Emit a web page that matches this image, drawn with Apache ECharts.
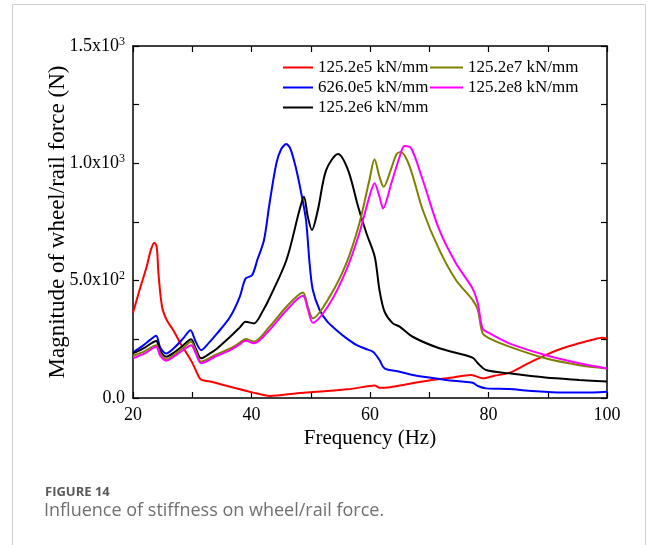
<!DOCTYPE html>
<html>
<head>
<meta charset="utf-8">
<script src="https://cdn.jsdelivr.net/npm/echarts@6/dist/echarts.min.js"></script>
<style>
html,body{margin:0;padding:0;background:#fff;}
#chart{width:654px;height:545px;}
</style>
</head>
<body>
<div id="chart"></div>
<script>
// ---- data ----
const seriesNames = ['125.2e5 kN/mm', '626.0e5 kN/mm', '125.2e6 kN/mm', '125.2e7 kN/mm', '125.2e8 kN/mm'];
const seriesColors = ['#ff0000', '#0000ff', '#000000', '#808000', '#ff00ff'];

const freqRed = [20, 21.1, 22.3, 23, 23.6, 24, 24.3, 24.9, 25.7, 26.8, 28, 29.9, 31.1, 31.6, 33, 36.4, 40.3, 43.1, 47.7, 51, 56.2, 59.9, 60.8, 61.6, 63, 66, 70, 73.5, 77.1, 79, 81, 83.5, 86.5, 89.6, 92.5, 95.3, 97.5, 99.2, 100];
const valRed = [363, 460, 559, 630, 662, 645, 530, 389, 332, 289, 233, 155, 91, 77, 70, 48, 23, 9, 20, 27, 37, 51, 53, 44, 45, 58, 75, 86, 98, 84, 95, 107, 145, 183, 212, 233, 248, 257, 254];

const freqBlue = [20, 21.5, 23, 23.9, 24.6, 25.6, 27, 28.5, 29.7, 30.5, 31.5, 32.8, 34.2, 36.4, 38, 39, 40.1, 41, 42.1, 43.05, 44.2, 45, 45.87, 46.6, 47.5, 48.4, 49.2, 49.8, 50.35, 51.5, 52.8, 54.3, 56, 57.7, 59.2, 60.5, 61.6, 62.45, 65, 67.2, 72.85, 77.3, 78.2, 79.6, 83.5, 86.8, 92.4, 96, 100];
const valBlue = [195, 220, 250, 265, 215, 190, 215, 255, 289, 245, 204, 235, 275, 346, 430, 509, 523, 590, 672, 830, 1000, 1060, 1082, 1060, 980, 872, 758, 575, 460, 375, 325, 290, 255, 226, 210, 197, 162, 126, 112, 98, 77, 65, 51, 41, 38, 31, 23, 23, 27];

const freqBlack = [20, 22, 23.9, 24.6, 25.6, 27, 28.5, 29.8, 30.6, 31.5, 33, 34.2, 36.4, 38, 39, 40.4, 42, 43.05, 45.9, 48.1, 48.85, 49.5, 50.2, 51.2, 52.6, 54.6, 56.3, 58, 59.4, 60.8, 61.6, 62.45, 63.85, 65, 67.2, 71.7, 77.3, 78.2, 79.6, 83.5, 89.6, 95.3, 100];
const valBlack = [190, 215, 243, 200, 176, 195, 225, 250, 210, 169, 190, 211, 261, 300, 325, 318, 375, 426, 588, 801, 858, 773, 716, 801, 971, 1040, 971, 815, 702, 602, 460, 368, 318, 304, 261, 212, 172, 148, 119, 105, 87, 77, 70];

const freqOlive = [20, 22, 23.9, 24.6, 25.6, 27, 28.5, 29.8, 30.6, 31.5, 34, 36.4, 38, 39, 40.4, 43.05, 45.9, 48.67, 49.5, 50.35, 53.2, 56, 58.2, 59.9, 60.76, 61.6, 62.3, 63.6, 64.5, 65.2, 66.7, 68.9, 71.7, 74.5, 77.3, 78.2, 79, 80.15, 83.5, 89.6, 95.3, 100];
const valOlive = [179, 200, 225, 190, 165, 185, 215, 240, 200, 155, 185, 211, 235, 251, 240, 304, 389, 450, 389, 340, 432, 574, 744, 929, 1017, 943, 900, 979, 1040, 1048, 986, 801, 631, 503, 418, 375, 276, 254, 219, 169, 140, 126];

const freqMagenta = [20, 22, 23.9, 24.6, 25.6, 27, 28.5, 29.8, 30.6, 31.5, 34, 36.4, 38, 39, 40.4, 43.05, 45.9, 48.67, 49.5, 50.35, 53.2, 56, 58.2, 59.9, 60.76, 61.6, 62.2, 63.6, 65, 65.8, 66.95, 68.9, 71.7, 74.5, 77.3, 78.2, 79, 80.15, 83.5, 89.6, 95.3, 100];
const valMagenta = [169, 190, 218, 180, 159, 178, 205, 225, 190, 148, 178, 204, 228, 244, 233, 290, 374, 436, 380, 321, 403, 545, 702, 858, 915, 858, 808, 915, 1028, 1074, 1064, 929, 716, 574, 467, 403, 297, 276, 233, 183, 148, 126];

const xTickLabels = [20, 40, 60, 80, 100];
const yTickLabels = {0: ['0.0', ''], 500: ['5.0x10', '2'], 1000: ['1.0x10', '3'], 1500: ['1.5x10', '3']};

const allFreq = [freqRed, freqBlue, freqBlack, freqOlive, freqMagenta];
const allVal = [valRed, valBlue, valBlack, valOlive, valMagenta];

const serif = '"Liberation Serif", "Times New Roman", serif';

function pairs(f, v) { return f.map((x, i) => [x, v[i]]); }

const chart = echarts.init(document.getElementById('chart'), null, {renderer: 'canvas'});

const axisLineStyle = {color: '#000', width: 1.5};
const baseX = {
  type: 'value', min: 20, max: 100, interval: 10,
  axisLine: {show: true, onZero: false, lineStyle: axisLineStyle},
  axisTick: {show: true, inside: true, length: 6, lineStyle: {color: '#000', width: 1.2}},
  splitLine: {show: false}
};
const baseY = {
  type: 'value', min: 0, max: 1500, interval: 250,
  axisLine: {show: true, onZero: false, lineStyle: axisLineStyle},
  axisTick: {show: true, inside: true, length: 6, lineStyle: {color: '#000', width: 1.2}},
  splitLine: {show: false}
};

const option = {
  backgroundColor: '#fff',
  animation: false,
  grid: {left: 133, right: 47, top: 46, bottom: 147, containLabel: false},
  xAxis: [
    Object.assign({}, baseX, {
      position: 'bottom',
      name: 'Frequency (Hz)', nameLocation: 'middle', nameGap: 30,
      nameMoveOverlap: false,
      nameTextStyle: {fontFamily: serif, fontSize: 21, color: '#000'},
      axisLabel: {
        show: true, margin: 8, fontFamily: serif, fontSize: 18, color: '#000',
        formatter: v => xTickLabels.indexOf(v) >= 0 ? String(v) : ''
      }
    }),
    Object.assign({}, baseX, {position: 'top', axisLabel: {show: false}})
  ],
  yAxis: [
    Object.assign({}, baseY, {
      position: 'left',
      name: 'Magnitude of wheel/rail force (N)', nameLocation: 'middle', nameGap: 64,
      nameMoveOverlap: false,
      nameTextStyle: {fontFamily: serif, fontSize: 23, color: '#000'},
      axisLabel: {
        show: true, margin: 8, fontFamily: serif, fontSize: 18, color: '#000',
        formatter: v => {
          const t = yTickLabels[v];
          if (!t) return '';
          return t[1] ? '{m|' + t[0] + '}{s|' + t[1] + '}' : '{m|' + t[0] + '}';
        },
        rich: {
          m: {fontFamily: serif, fontSize: 18, color: '#000'},
          s: {fontFamily: serif, fontSize: 12, color: '#000', verticalAlign: 'top', padding: [0, 0, 9, 0]}
        }
      }
    }),
    Object.assign({}, baseY, {position: 'right', axisLabel: {show: false}})
  ],
  legend: [
    {
      data: [seriesNames[0], seriesNames[1], seriesNames[2]],
      orient: 'vertical', left: 283, top: 59, padding: 0,
      itemWidth: 30, itemHeight: 2, itemGap: 3, icon: 'rect',
      textStyle: {fontFamily: serif, fontSize: 17, color: '#000'}
    },
    {
      data: [seriesNames[3], seriesNames[4]],
      orient: 'vertical', left: 430, top: 59, padding: 0,
      itemWidth: 33, itemHeight: 2, itemGap: 3, icon: 'rect',
      textStyle: {fontFamily: serif, fontSize: 17, color: '#000'}
    }
  ],
  series: seriesNames.map((n, i) => ({
    name: n, type: 'line', xAxisIndex: 0, yAxisIndex: 0,
    data: pairs(allFreq[i], allVal[i]),
    showSymbol: false, symbol: 'none',
    smooth: 0.3,
    lineStyle: {color: seriesColors[i], width: 2},
    itemStyle: {color: seriesColors[i]}
  })),
  graphic: [
    {type: 'rect', shape: {x: 12.5, y: 4.5, width: 633, height: 600},
     style: {fill: 'none', stroke: '#cfcfcf', lineWidth: 1}, silent: true, z: -1},
    {type: 'text', left: 45, top: 486,
     style: {text: 'FIGURE 14', font: 'bold 13px "Open Sans", sans-serif', fill: '#5a5a5a'}},
    {type: 'text', left: 44, top: 502,
     style: {text: 'Influence of stiffness on wheel/rail force.', font: '18px "Open Sans", sans-serif', fill: '#707070'}}
  ]
};
chart.setOption(option);
</script>
</body>
</html>
